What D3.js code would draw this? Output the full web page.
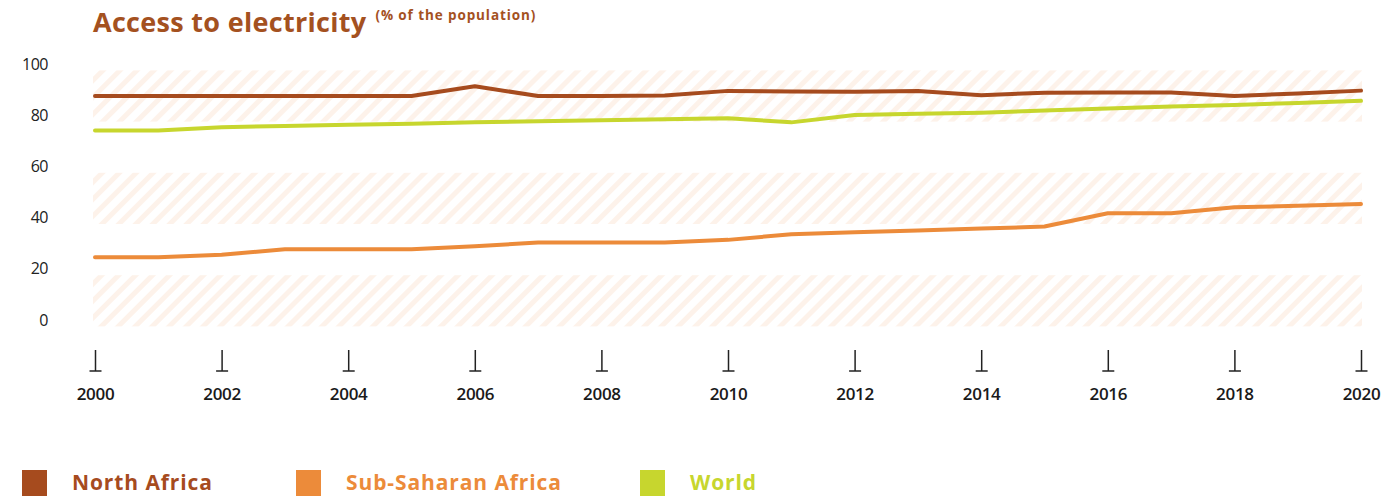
<!DOCTYPE html>
<html>
<head>
<meta charset="utf-8">
<script src="https://cdn.jsdelivr.net/npm/d3@7/dist/d3.min.js"></script>
<style>
  html, body { margin: 0; padding: 0; background: #fff; }
  svg { display: block; }
</style>
</head>
<body>
<svg id="chart" width="1383" height="496"></svg>
<script>
// Access to electricity, % of population, 2000-2020
const years = d3.range(2000, 2021);
const northAfrica = [87.5, 87.5, 87.5, 87.5, 87.5, 87.5, 91.3, 87.5, 87.5, 87.7, 89.5,
                     89.3, 89.2, 89.5, 87.8, 88.8, 88.9, 88.9, 87.5, 88.5, 89.6];
const subSaharan  = [24.5, 24.5, 25.5, 27.6, 27.6, 27.6, 28.8, 30.3, 30.3, 30.3, 31.3,
                     33.5, 34.3, 35.0, 35.7, 36.5, 41.7, 41.7, 44.0, 44.6, 45.3];
const world       = [74.0, 74.0, 75.3, 75.8, 76.3, 76.7, 77.2, 77.6, 78.0, 78.4, 78.8,
                     77.2, 80.1, 80.6, 81.0, 81.8, 82.6, 83.4, 84.0, 84.8, 85.6];
const yTicks = [0, 20, 40, 60, 80, 100];
const xTicks = d3.range(2000, 2021, 2);
const bands = [[-2.5, 17.5], [37.5, 57.5], [77.5, 97.5]];
const seriesNames = ["North Africa", "Sub-Saharan Africa", "World"];
const seriesColors = ["#A64B1E", "#EC8B3A", "#C7D62E"];
const seriesData = [northAfrica, subSaharan, world];

const svg = d3.select("#chart");
const x = d3.scaleLinear().domain([2000, 2020]).range([95, 1361]);
const y = d3.scaleLinear().domain([0, 100]).range([320, 64]);

// diagonal hatch pattern for the background bands
const defs = svg.append("defs");
const pat = defs.append("pattern")
  .attr("id", "hatch")
  .attr("patternUnits", "userSpaceOnUse")
  .attr("width", 12).attr("height", 12)
  .attr("patternTransform", "rotate(45)");
pat.append("rect").attr("width", 12).attr("height", 12).attr("fill", "#fff");
pat.append("rect").attr("width", 5).attr("height", 12).attr("fill", "#FDF2EA");

svg.append("g").selectAll("rect").data(bands).join("rect")
  .attr("x", x(2000) - 2)
  .attr("width", x(2020) - x(2000) + 3)
  .attr("y", d => y(d[1]))
  .attr("height", d => y(d[0]) - y(d[1]))
  .attr("fill", "url(#hatch)");

// title
const title = svg.append("text")
  .attr("x", 93).attr("y", 32)
  .attr("font-family", "'Open Sans', sans-serif")
  .attr("font-weight", 700)
  .attr("font-size", 27)
  .attr("letter-spacing", 0.3)
  .attr("fill", "#A4511F");
title.append("tspan").text("Access to electricity");
title.append("tspan")
  .attr("dx", 9).attr("dy", -12)
  .attr("font-size", 13.5)
  .attr("font-weight", 700)
  .attr("letter-spacing", 0.9)
  .text("(% of the population)");

// y axis labels
const yAxis = svg.append("g")
  .attr("transform", "translate(48,0)")
  .call(d3.axisLeft(y).tickValues(yTicks).tickSize(0).tickPadding(0));
yAxis.select(".domain").remove();
yAxis.selectAll("text")
  .attr("font-family", "'Open Sans', sans-serif")
  .attr("font-size", 16)
  .attr("font-weight", 500)
  .attr("letter-spacing", -0.5)
  .attr("fill", "#222");

// x axis with inverted-T tick marks
const xAxis = svg.append("g")
  .attr("transform", "translate(0,371)")
  .call(d3.axisBottom(x).tickValues(xTicks).tickFormat(d3.format("d"))
    .tickSize(-21).tickPadding(14));
xAxis.select(".domain").remove();
xAxis.selectAll(".tick line").attr("stroke", "#222").attr("stroke-width", 1.5);
xAxis.selectAll(".tick").append("line")
  .attr("x1", -6).attr("x2", 6).attr("y1", 0).attr("y2", 0)
  .attr("stroke", "#222").attr("stroke-width", 1.5);
xAxis.selectAll("text")
  .attr("y", 17)
  .attr("font-family", "'Open Sans', sans-serif")
  .attr("font-size", 17)
  .attr("font-weight", 600)
  .attr("letter-spacing", -0.3)
  .attr("fill", "#1a1a1a");

// series lines
const line = d3.line().x((d, i) => x(years[i])).y(d => y(d));
svg.append("g").selectAll("path").data(seriesData).join("path")
  .attr("d", d => line(d))
  .attr("fill", "none")
  .attr("stroke", (d, i) => seriesColors[i])
  .attr("stroke-width", 4)
  .attr("stroke-linejoin", "round")
  .attr("stroke-linecap", "round");

// legend
const legendX = [22, 296, 640];
const lg = svg.append("g").selectAll("g").data(seriesNames).join("g")
  .attr("transform", (d, i) => `translate(${legendX[i]},470)`);
lg.append("rect").attr("width", 25).attr("height", 26)
  .attr("fill", (d, i) => seriesColors[i]);
lg.append("text")
  .attr("x", 50).attr("y", 19.5)
  .attr("font-family", "'Open Sans', sans-serif")
  .attr("font-weight", 700)
  .attr("font-size", 21)
  .attr("letter-spacing", 0.9)
  .attr("fill", (d, i) => seriesColors[i])
  .text(d => d);
</script>
</body>
</html>
